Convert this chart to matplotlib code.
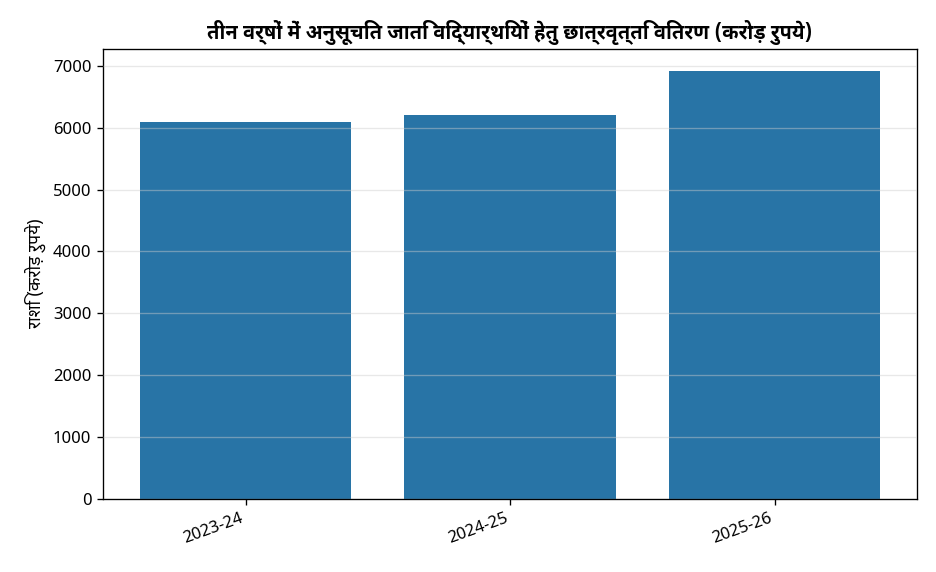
import matplotlib
matplotlib.use("Agg")
import matplotlib.pyplot as plt

# Data
years = ["2023-24", "2024-25", "2025-26"]
amounts = [6100, 6210, 6925]

plt.rcParams["font.family"] = ["Noto Sans", "Noto Sans Devanagari UI", "DejaVu Sans"]

fig, ax = plt.subplots(figsize=(7.8, 4.7667), dpi=120)
ax.bar(years, amounts, color="#2874a6", width=0.8, zorder=2)
ax.set_axisbelow(False)
ax.yaxis.grid(True, color="#cccccc", linewidth=0.8, alpha=0.45)
ax.set_ylim(0, 7280)
ax.set_title("तीन वर्षों में अनुसूचित जाति विद्यार्थियों हेतु छात्रवृत्ति वितरण (करोड़ रुपये)",
             fontweight="bold", fontsize=12,
             family=["Noto Sans Devanagari UI", "Noto Sans", "DejaVu Sans"])
ax.set_ylabel("राशि (करोड़ रुपये)", fontsize=10.5)
plt.setp(ax.get_xticklabels(), rotation=20, ha="right")
ax.tick_params(labelsize=10)
fig.subplots_adjust(left=0.11, right=0.98, top=0.915, bottom=0.128)
fig.savefig("out.png", dpi=120)
